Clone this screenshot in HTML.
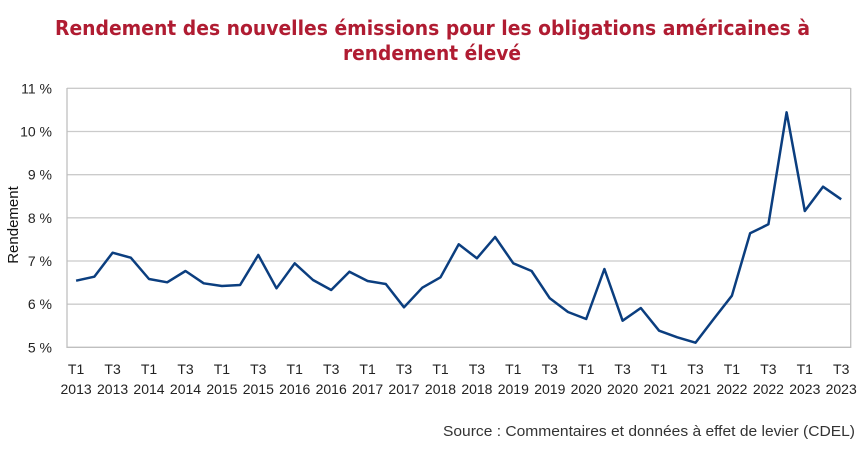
<!DOCTYPE html>
<html><head><meta charset="utf-8"><style>
html,body{margin:0;padding:0;background:#fff;}
svg{display:block;}
</style></head><body>
<svg width="863" height="451" viewBox="0 0 863 451" xmlns="http://www.w3.org/2000/svg">
<rect width="863" height="451" fill="#fff"/>
<g font-family="'DejaVu Sans', 'Liberation Sans', sans-serif" font-weight="bold" fill="#b01c32" font-size="20">
<text x="55" y="35" textLength="755" lengthAdjust="spacingAndGlyphs">Rendement des nouvelles émissions pour les obligations américaines à</text>
<text x="343" y="60" textLength="178" lengthAdjust="spacingAndGlyphs">rendement élevé</text>
</g>
<g stroke="#cbcbcb" stroke-width="1.3">
<line x1="67" y1="88.3" x2="850.7" y2="88.3"/>
<line x1="67" y1="131.5" x2="850.7" y2="131.5"/>
<line x1="67" y1="174.7" x2="850.7" y2="174.7"/>
<line x1="67" y1="217.8" x2="850.7" y2="217.8"/>
<line x1="67" y1="261" x2="850.7" y2="261"/>
<line x1="67" y1="304.2" x2="850.7" y2="304.2"/>
</g>
<g stroke="#bfbfbf" stroke-width="1.3" fill="none">
<polyline points="67,88 67,347.3 850.7,347.3 850.7,88"/>
</g>
<g font-family="'Liberation Sans', sans-serif" font-size="14" fill="#222" text-anchor="end">
<text x="52" y="93.3">11 %</text>
<text x="52" y="136.5">10 %</text>
<text x="52" y="179.7">9 %</text>
<text x="52" y="222.8">8 %</text>
<text x="52" y="266">7 %</text>
<text x="52" y="309.2">6 %</text>
<text x="52" y="352.3">5 %</text>
</g>
<text transform="translate(18,225) rotate(-90)" font-family="'Liberation Sans', sans-serif" font-size="15" fill="#111" text-anchor="middle">Rendement</text>
<polyline fill="none" stroke="#0b3e7f" stroke-width="2.5" stroke-linejoin="round" points="76.1,280.7 94.3,276.7 112.6,252.7 130.8,257.7 149,279 167.2,282.3 185.5,271 203.7,283.3 221.9,286 240.1,285 258.3,255 276.5,288.3 294.7,263.3 313,280 331.2,290 349.4,271.7 367.6,281 385.8,284 404,307.3 422.3,287.7 440.5,277.3 458.7,244.3 476.9,258.3 495.1,237 513.3,263.3 531.6,271 549.8,298.3 568,312 586.2,319 604.4,269 622.6,320.7 640.8,308 659.1,330.7 677.3,337.3 695.5,342.7 713.7,319 731.9,295.7 750.1,233.3 768.4,224.3 786.6,112.3 804.8,211 823,186.7 841.2,199.3"/>
<g font-family="'Liberation Sans', sans-serif" font-size="14" fill="#222" text-anchor="middle">
<text x="76.1" y="374">T1</text><text x="76.1" y="394">2013</text>
<text x="112.6" y="374">T3</text><text x="112.6" y="394">2013</text>
<text x="149" y="374">T1</text><text x="149" y="394">2014</text>
<text x="185.5" y="374">T3</text><text x="185.5" y="394">2014</text>
<text x="221.9" y="374">T1</text><text x="221.9" y="394">2015</text>
<text x="258.3" y="374">T3</text><text x="258.3" y="394">2015</text>
<text x="294.7" y="374">T1</text><text x="294.7" y="394">2016</text>
<text x="331.2" y="374">T3</text><text x="331.2" y="394">2016</text>
<text x="367.6" y="374">T1</text><text x="367.6" y="394">2017</text>
<text x="404" y="374">T3</text><text x="404" y="394">2017</text>
<text x="440.5" y="374">T1</text><text x="440.5" y="394">2018</text>
<text x="476.9" y="374">T3</text><text x="476.9" y="394">2018</text>
<text x="513.3" y="374">T1</text><text x="513.3" y="394">2019</text>
<text x="549.8" y="374">T3</text><text x="549.8" y="394">2019</text>
<text x="586.2" y="374">T1</text><text x="586.2" y="394">2020</text>
<text x="622.6" y="374">T3</text><text x="622.6" y="394">2020</text>
<text x="659.1" y="374">T1</text><text x="659.1" y="394">2021</text>
<text x="695.5" y="374">T3</text><text x="695.5" y="394">2021</text>
<text x="731.9" y="374">T1</text><text x="731.9" y="394">2022</text>
<text x="768.4" y="374">T3</text><text x="768.4" y="394">2022</text>
<text x="804.8" y="374">T1</text><text x="804.8" y="394">2023</text>
<text x="841.2" y="374">T3</text><text x="841.2" y="394">2023</text>
</g>
<text x="443" y="436" font-family="'Liberation Sans', sans-serif" font-size="15" fill="#333" textLength="412" lengthAdjust="spacingAndGlyphs">Source : Commentaires et données à effet de levier (CDEL)</text>
</svg>
</body></html>
